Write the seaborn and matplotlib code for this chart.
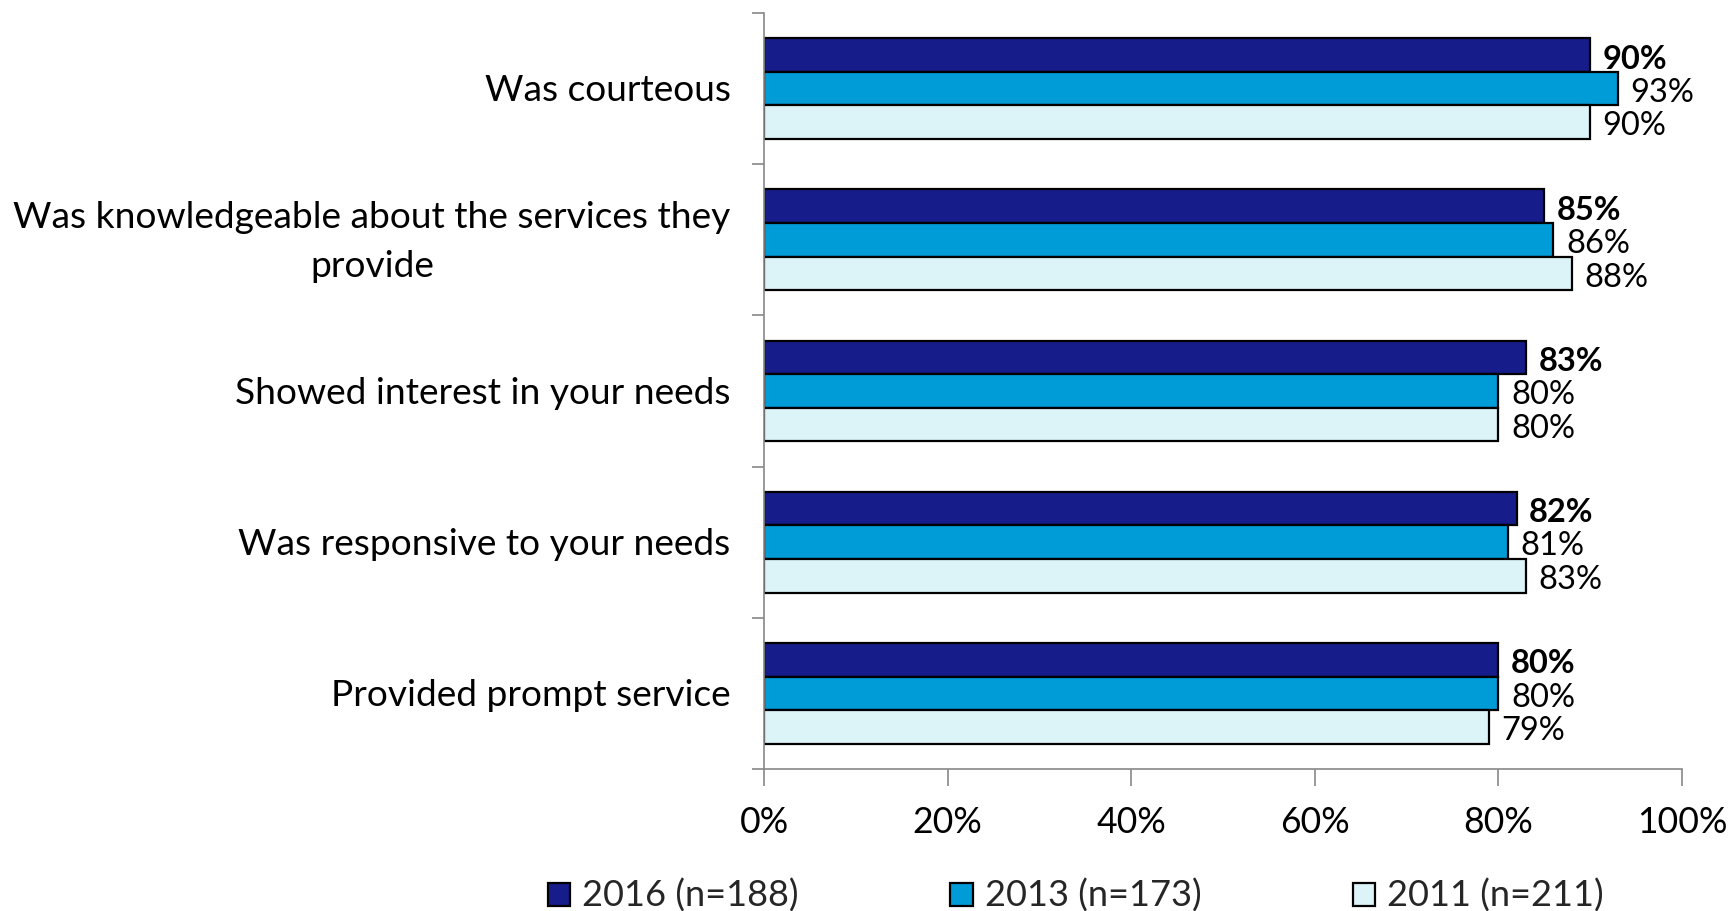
import matplotlib
matplotlib.use("Agg")
import matplotlib.pyplot as plt
import matplotlib.transforms as mtransforms
import seaborn as sns
import pandas as pd
from matplotlib.patches import Patch

categories = [
    "Was courteous",
    "Was knowledgeable about the services they\nprovide",
    "Showed interest in your needs",
    "Was responsive to your needs",
    "Provided prompt service",
]
series_names = ["2016 (n=188)", "2013 (n=173)", "2011 (n=211)"]
values_2016 = [90, 85, 83, 82, 80]
values_2013 = [93, 86, 80, 81, 80]
values_2011 = [90, 88, 80, 83, 79]
x_ticks = [0, 20, 40, 60, 80, 100]
x_tick_labels = ["0%", "20%", "40%", "60%", "80%", "100%"]
colors = ["#161C8A", "#009CD8", "#DCF3F8"]

sns.set_theme(style="white")
plt.rcParams["font.family"] = ["Lato", "DejaVu Sans"]

rows = []
for name, vals in zip(series_names, [values_2016, values_2013, values_2011]):
    for cat, v in zip(categories, vals):
        rows.append({"category": cat, "series": name, "value": v})
df = pd.DataFrame(rows)

fig = plt.figure(figsize=(17.29, 9.11), dpi=100)
ax = fig.add_axes([0.4419, 0.1559, 0.9728 - 0.4419, 0.9857 - 0.1559])

sns.barplot(
    data=df, y="category", x="value", hue="series", order=categories,
    hue_order=series_names, palette=colors, orient="h", width=0.667,
    edgecolor="black", linewidth=1.6, saturation=1, legend=False, ax=ax,
)

# value labels: bold for the latest wave
for i, container in enumerate(ax.containers):
    anns = ax.bar_label(
        container, labels=[f"{v:.0f}%" for v in container.datavalues],
        padding=9, fontsize=23.5, fontweight="bold" if i == 0 else "normal",
        color="black",
    )
    for a in anns:
        a.xyann = (9, -3)

ax.set_xlim(0, 100)
ax.set_ylim(len(categories) - 0.5, -0.5)
ax.set_xticks(x_ticks)
ax.set_xticklabels(x_tick_labels, fontsize=25.6)
ax.tick_params(axis="x", direction="out", length=12, width=1.2, color="#888888",
               pad=15, labelcolor="black", bottom=True)

# category boundaries carry the tick marks; names sit at band centres
ax.set_yticks([i - 0.5 for i in range(len(categories) + 1)])
ax.set_yticklabels([])
ax.set_yticks(range(len(categories)), minor=True)
ax.set_yticklabels(categories, minor=True, fontsize=26.7, va="center",
                   multialignment="center", linespacing=1.6)
ax.tick_params(axis="y", which="major", direction="out", length=9, width=1.2,
               color="#888888", left=True)
ax.tick_params(axis="y", which="minor", length=0, pad=24, labelcolor="black")
nudge = mtransforms.ScaledTranslation(0, -1.6 / 72, fig.dpi_scale_trans)
for lbl in ax.get_yticklabels(minor=True):
    lbl.set_transform(lbl.get_transform() + nudge)

ax.set_xlabel("")
ax.set_ylabel("")
for side in ["top", "right"]:
    ax.spines[side].set_visible(False)
for side in ["left", "bottom"]:
    ax.spines[side].set_color("#888888")
    ax.spines[side].set_linewidth(1.2)
ax.grid(False)

handles = [Patch(facecolor=c, edgecolor="black", linewidth=1.6) for c in colors]
fig.legend(
    handles, series_names, loc="center", bbox_to_anchor=(1076 / 1729, 1 - 896 / 911),
    ncol=3, frameon=False, fontsize=26, handlelength=0.62, handleheight=0.62,
    handletextpad=0.33, columnspacing=4.2,
)

fig.savefig("out.png", dpi=100, facecolor="white")
